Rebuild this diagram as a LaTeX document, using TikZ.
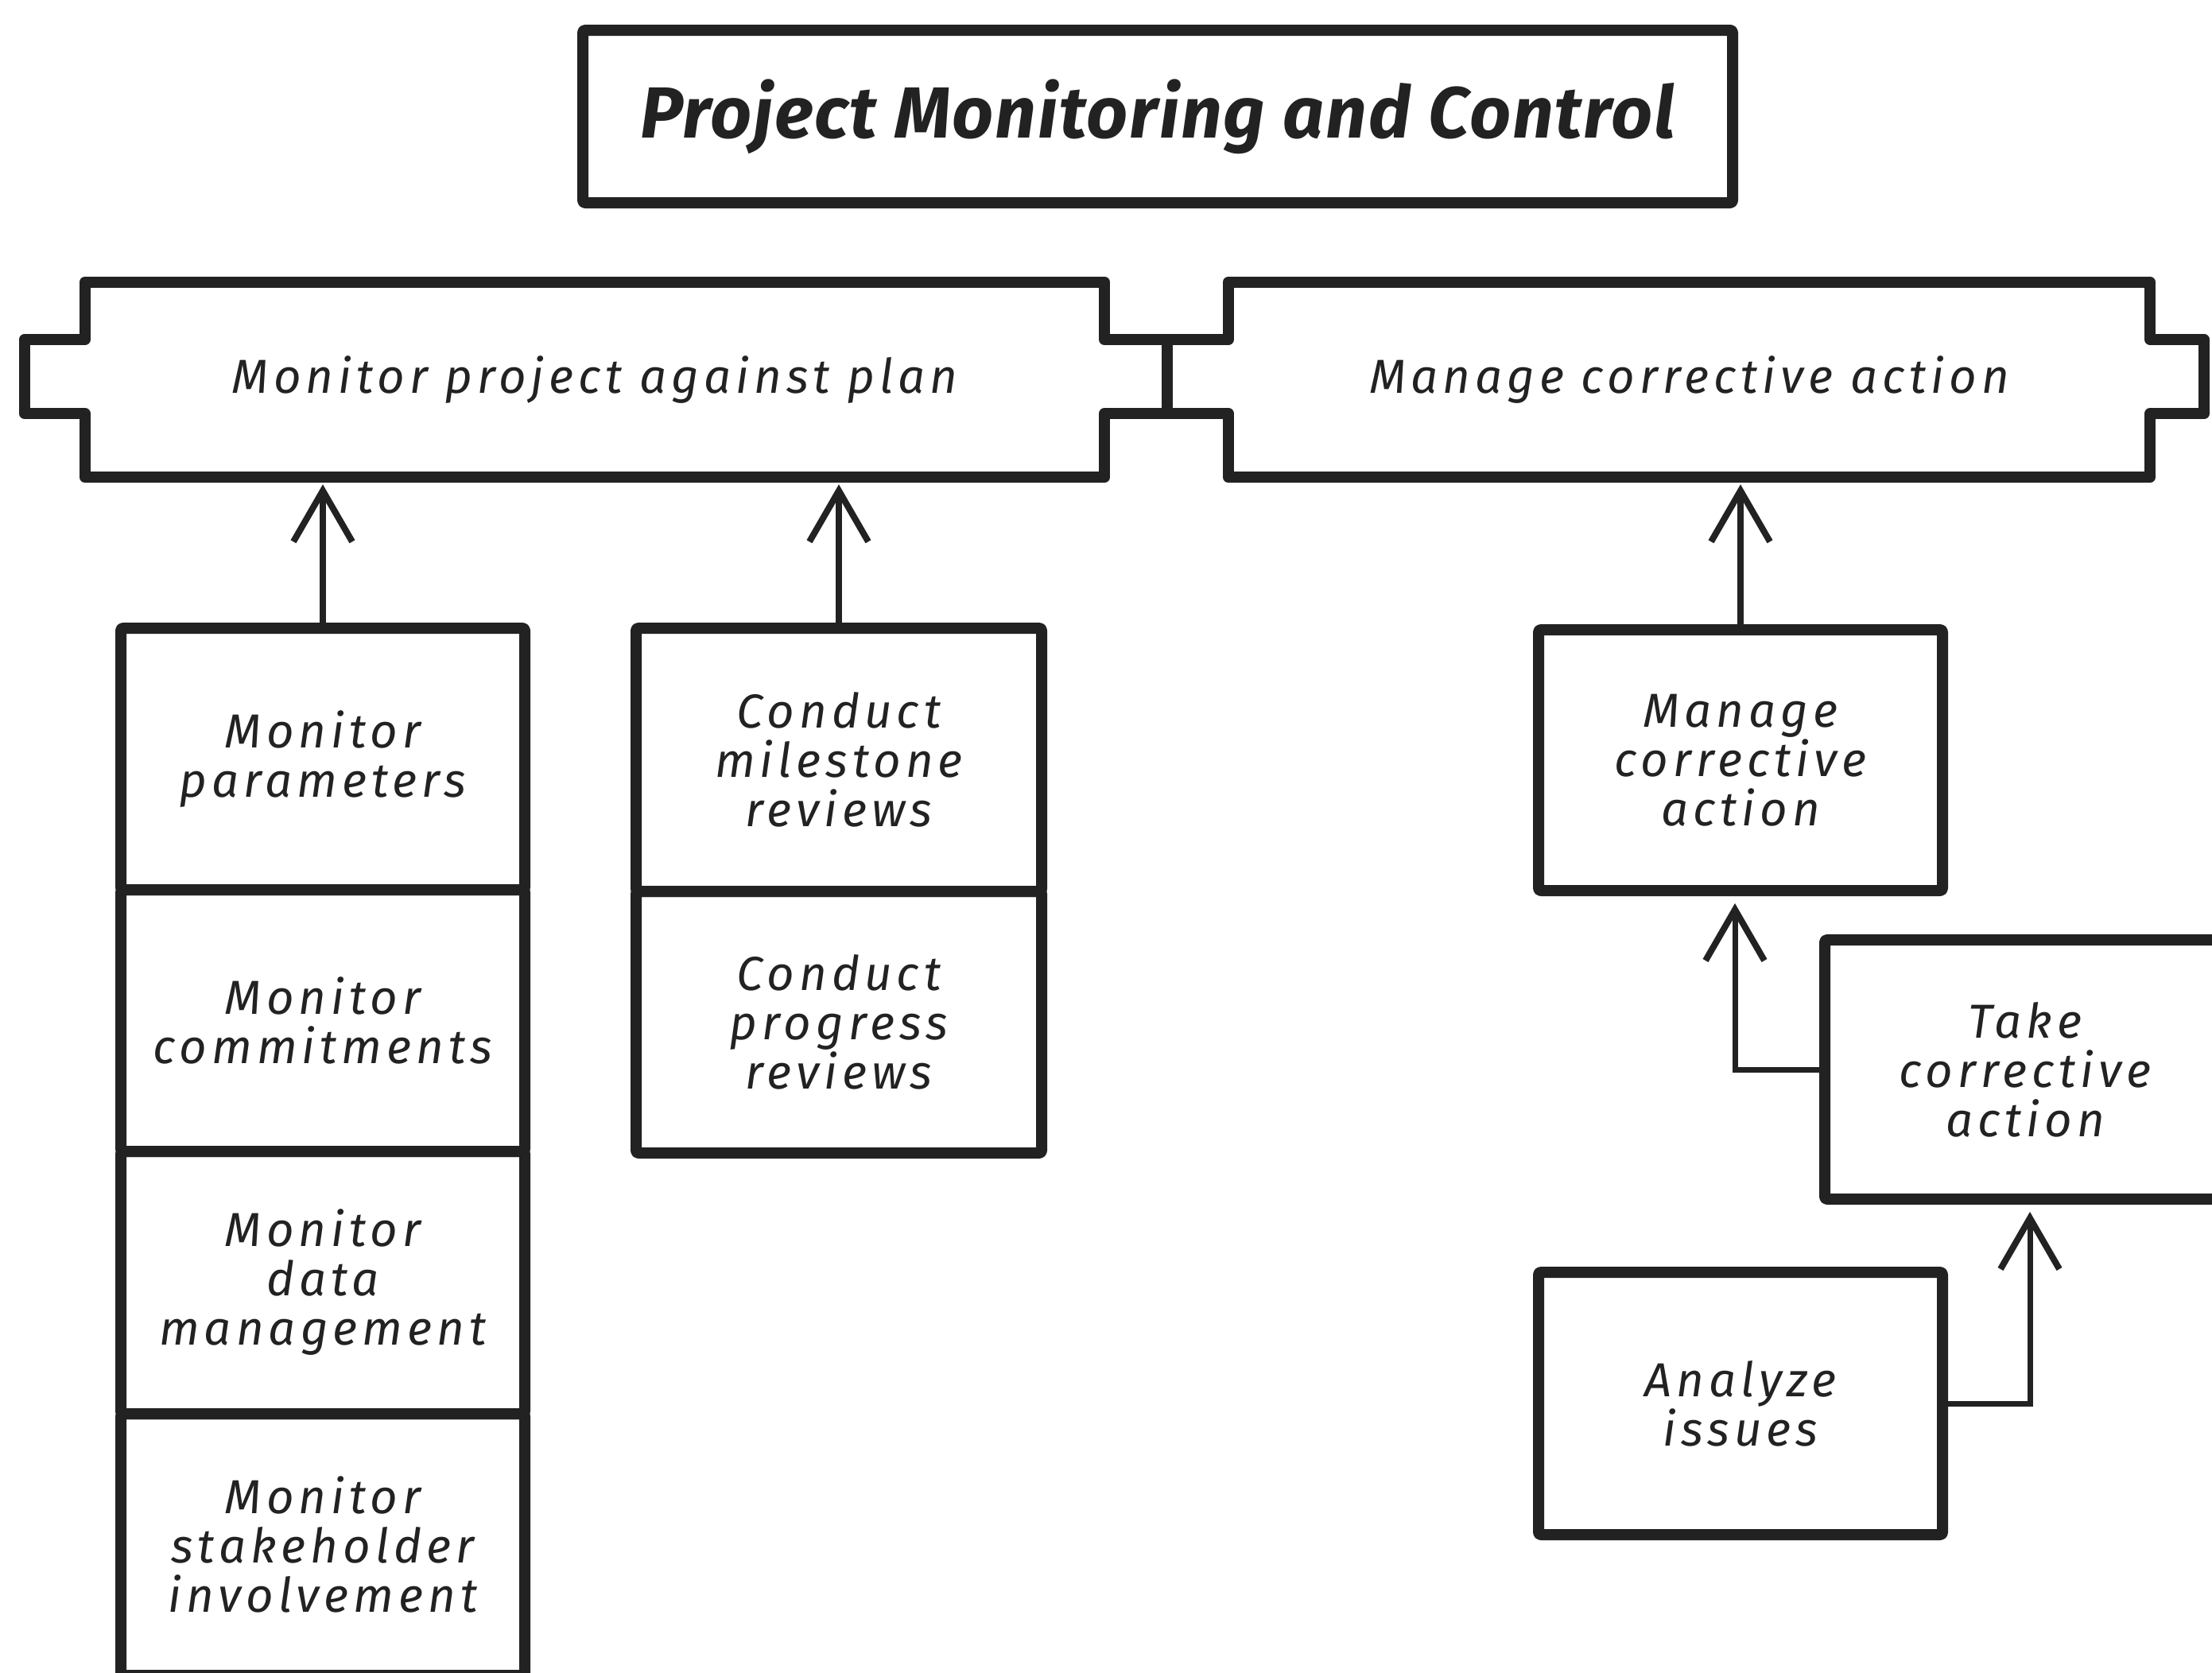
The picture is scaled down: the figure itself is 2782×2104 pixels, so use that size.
\documentclass[tikz,border=0pt]{standalone}
\usepackage{fontspec}
\setmainfont{Fira Sans}
\usetikzlibrary{arrows.meta}
\definecolor{ink}{HTML}{222222}
\newcommand{\handtext}{\itshape\addfontfeatures{LetterSpace=10}\fontsize{60}{62}\selectfont}
\newcommand{\titletext}{\bfseries\itshape\addfontfeatures{LetterSpace=2}\fontsize{91}{95}\selectfont}
\tikzset{
  boxline/.style={draw=ink, line width=14pt, line join=round, rounded corners=3pt},
  stepbox/.style={boxline, rectangle, inner sep=0pt, align=center, text=ink, font=\handtext},
  label/.style={inner sep=0pt, align=center, text=ink, font=\handtext},
  uparrow/.style={draw=ink, line width=8pt, shorten >=9pt,
    -{Straight Barb[length=64pt, width=74pt, line width=8pt]}},
  elbow/.style={uparrow, line width=7pt},
}
\begin{document}
\begin{tikzpicture}[x=1pt, y=-1pt]
\useasboundingbox (0,0) rectangle (2782,2104);

% title
\node[stepbox, font=\titletext, minimum width=1446pt, minimum height=217pt] (title) at (1456,146.5) {Project Monitoring and Control};

% top-level process bars (text holders; outlines drawn below)
\node[label, minimum width=1282pt, minimum height=245pt] (mpp) at (748,477.5) {Monitor project against plan};
\node[label, minimum width=1159pt, minimum height=245pt] (mca) at (2124.5,477.5) {Manage corrective action};

\coordinate (joinT) at (1468,427);
\coordinate (joinB) at (1468,520);

\draw[boxline, rounded corners=0pt]
  (mpp.north west) -- (mpp.north east) -- (mpp.east |- joinT) -- (joinT)
  -- (joinB) -- (mpp.east |- joinB) -- (mpp.south east) -- (mpp.south west)
  -- (mpp.west |- joinB) -- ++(-76,0) -- ++(0,-93) -- (mpp.west |- joinT) -- cycle;
\draw[boxline, rounded corners=0pt]
  (joinT) -- (mca.west |- joinT) -- (mca.north west) -- (mca.north east)
  -- (mca.east |- joinT) -- ++(68,0) -- ++(0,93) -- (mca.east |- joinB)
  -- (mca.south east) -- (mca.south west) -- (mca.west |- joinB) -- (joinB);

% monitoring activities
\node[stepbox, minimum width=508pt, minimum height=329pt] (par) at (406,954.5) {Monitor\\parameters};
\node[stepbox, minimum width=508pt, minimum height=329pt] (com) at (406,1283.5) {Monitor\\commitments};
\node[stepbox, minimum width=508pt, minimum height=330pt] (dat) at (406,1613) {Monitor\\data\\management};
\node[stepbox, minimum width=508pt, minimum height=329pt] (stk) at (406,1942.5) {Monitor\\stakeholder\\involvement};

\node[stepbox, minimum width=510pt, minimum height=331pt] (mil) at (1055,955.5) {Conduct\\milestone\\reviews};
\node[stepbox, minimum width=510pt, minimum height=329pt] (prg) at (1055,1285.5) {Conduct\\progress\\reviews};

% corrective action activities
\node[stepbox, minimum width=508pt, minimum height=328pt] (mgc) at (2189,956) {Manage\\corrective\\action};
\node[stepbox, minimum width=504pt, minimum height=326pt] (take) at (2547,1345) {Take\\corrective\\action};
\node[stepbox, minimum width=508pt, minimum height=330pt] (ana) at (2189,1765) {Analyze\\issues};

% connectors
\draw[uparrow] (par.north) -- (par.north |- mpp.south);
\draw[uparrow] (mil.north) -- (mil.north |- mpp.south);
\draw[uparrow] (mgc.north) -- (mgc.north |- mca.south);
\draw[elbow] (take.west) -| ([xshift=-7pt]mgc.south);
\draw[elbow] (ana.east) -| ([xshift=6pt]take.south);
\end{tikzpicture}
\end{document}
